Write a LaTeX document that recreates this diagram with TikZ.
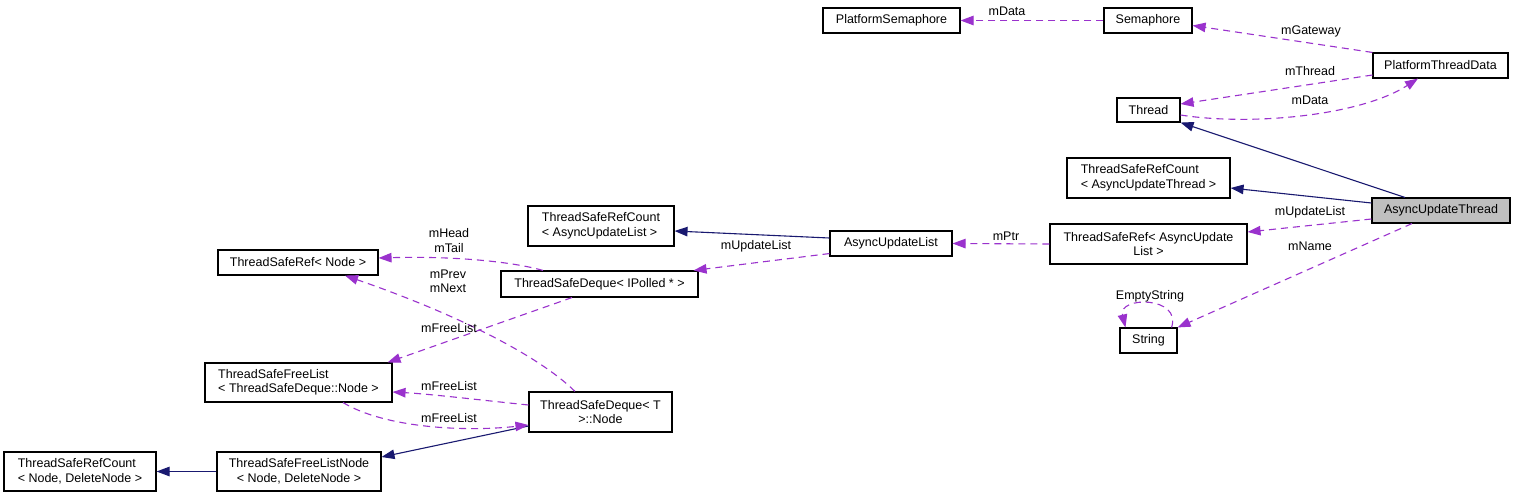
\documentclass[tikz,border=0pt]{standalone}
\usepackage{fontspec}
\setmainfont{Liberation Sans}
\usetikzlibrary{arrows.meta}
\definecolor{edgepurple}{RGB}{154,50,205}
\definecolor{edgenavy}{RGB}{25,25,112}
\definecolor{boxgray}{RGB}{191,191,191}
\begin{document}
\begin{tikzpicture}[x=1pt,y=-1pt,
  box/.style={draw=black,line width=1.1pt,rectangle,inner sep=0pt,fill=white,
    font=\fontsize{12.5}{14.5}\selectfont},
  lbl/.style={inner sep=0pt,font=\fontsize{12.5}{14.5}\selectfont,align=center},
  member/.style={draw=edgepurple,line width=1.1pt,dash pattern=on 7pt off 5pt,
    -{Triangle[length=13pt,width=9.5pt]},color=edgepurple},
  inherit/.style={draw=edgenavy,line width=1.1pt,
    -{Triangle[length=13pt,width=9.5pt]},color=edgenavy}]
\useasboundingbox[fill=white] (0,0) rectangle (1516,498);

% nodes
\node[box,minimum width=137,minimum height=25] (psem) at (891.5,20.5) {PlatformSemaphore};
\node[box,minimum width=88,minimum height=25] (sem) at (1148,20.5) {Semaphore};
\node[box,minimum width=135,minimum height=25] (ptd) at (1440.5,65.5) {PlatformThreadData};
\node[box,minimum width=63,minimum height=24] (thread) at (1148.5,110) {Thread};
\node[box,minimum width=163,minimum height=40,align=left] (trcaut) at (1148.5,178) {ThreadSafeRefCount\\< AsyncUpdateThread >};
\node[box,minimum width=138,minimum height=25,fill=boxgray] (aut) at (1441,210.5) {AsyncUpdateThread};
\node[box,minimum width=197,minimum height=40,align=center] (traul) at (1148.5,244) {ThreadSafeRef< AsyncUpdate\\List >};
\node[box,minimum width=57,minimum height=25] (str) at (1148.5,340.5) {String};
\node[box,minimum width=146,minimum height=40,align=left] (trcaul) at (601,226) {ThreadSafeRefCount\\< AsyncUpdateList >};
\node[box,minimum width=122,minimum height=25] (aul) at (891,243.5) {AsyncUpdateList};
\node[box,minimum width=160,minimum height=25] (trnode) at (298,262.5) {ThreadSafeRef< Node >};
\node[box,minimum width=197,minimum height=26] (tdq) at (599.5,284) {ThreadSafeDeque< IPolled * >};
\node[box,minimum width=187,minimum height=39,align=left] (tfl) at (298.5,382.5) {ThreadSafeFreeList\\< ThreadSafeDeque::Node >};
\node[box,minimum width=143,minimum height=40,align=center] (tdn) at (600.5,412) {ThreadSafeDeque< T\\>::Node};
\node[box,minimum width=152,minimum height=39,align=left] (trcnode) at (80,471.5) {ThreadSafeRefCount\\< Node, DeleteNode >};
\node[box,minimum width=164,minimum height=39,align=center] (tfln) at (299,471.5) {ThreadSafeFreeListNode\\< Node, DeleteNode >};

% inheritance edges
\draw[inherit] ([xshift=-36]aut.north) -- (thread.south east);
\draw[inherit] ([yshift=7.5]aut.west) -- ([yshift=-10]trcaut.east);
\draw[inherit] ([yshift=5.5]aul.west) -- ([yshift=-5]trcaul.east);
\draw[inherit] ([yshift=-14]tdn.west) -- ([yshift=14.5]tfln.east);
\draw[inherit] (tfln.west) -- (trcnode.east);

% member edges
\draw[member] ([yshift=-8.5]aut.west) -- ([yshift=12]traul.east);
\draw[member] ([xshift=-29]aut.south) -- (str.north east);
\draw[member] ([xshift=-6]str.north east) .. controls (1182,296) and (1118,296) .. ([xshift=6]str.north west);
\draw[member] ([yshift=-9.5]ptd.west) -- ([yshift=6]thread.east);
\draw[member] ([yshift=-5]thread.east) .. controls (1250,126) and (1360,116) .. ([xshift=-22.5]ptd.south);
\draw[member] (ptd.north west) -- ([yshift=-5]sem.east);
\draw[member] (sem.west) -- (psem.east);
\draw[member] (traul.west) -- (aul.east);
\draw[member] ([yshift=3]aul.south west) -- ([xshift=-5]tdq.north east);
\draw[member] ([xshift=-56.5]tdq.north) .. controls (510,261) and (450,256) .. ([yshift=4.5]trnode.east);
\draw[member] ([xshift=-25.5]tdn.north) .. controls (535,352) and (445,310) .. ([xshift=47]trnode.south);
\draw[member] ([xshift=-27.5]tdq.south) -- ([xshift=-5]tfl.north east);
\draw[member] ([yshift=7]tdn.west) .. controls (480,400) and (430,394) .. ([yshift=-9.5]tfl.east);
\draw[member] ([xshift=44.5]tfl.south) .. controls (385,428) and (465,432) .. ([yshift=-13]tdn.west);

% labels
\node[lbl] (l1) at (1007,11) {mData};
\node[lbl] (l2) at (1311,31) {mGateway};
\node[lbl] (l3) at (1310,71) {mThread};
\node[lbl] (l4) at (1310,100) {mData};
\node[lbl] (l5) at (1310,212) {mUpdateList};
\node[lbl] (l6) at (1310,246) {mName};
\node[lbl] (l7) at (1150,296) {EmptyString};
\node[lbl] (l8) at (1006,236) {mPtr};
\node[lbl] (l9) at (756,246) {mUpdateList};
\node[lbl] (l10) at (449,240.5) {mHead\\mTail};
\node[lbl] (l11) at (448,281.5) {mPrev\\mNext};
\node[lbl] (l12) at (449,328) {mFreeList};
\node[lbl] (l13) at (449,386) {mFreeList};
\node[lbl] (l14) at (449,418) {mFreeList};
\end{tikzpicture}
\end{document}
